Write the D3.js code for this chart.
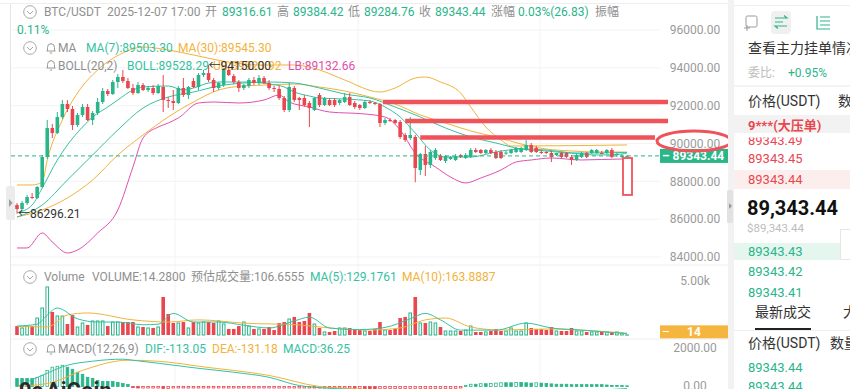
<!DOCTYPE html>
<html><head><meta charset="utf-8">
<script src="https://cdn.jsdelivr.net/npm/d3@7"></script>
<style>
html,body{margin:0;padding:0;background:#fff;overflow:hidden}
svg{display:block}
text{font-family:Roboto,"Noto Sans CJK SC",sans-serif}
</style>
</head><body>
<svg id="c" width="850" height="389"></svg>
<script>
// ---------- DATA (hourly BTC/USDT candles) ----------
const opens=[86750,86538,86855,87172,87120,87700,89286,90820,90555,91401,
92088,91824,90978,91507,91930,91242,91613,92194,92775,92617,
93251,93516,93304,92934,92670,93093,92828,92934,92670,92987,
92300,92247,92141,92934,92564,93304,92987,93621,93727,93357,
92934,93093,93886,93568,93251,92934,93040,93357,93198,93463,
93198,92934,92881,92405,91771,92934,92405,92405,92141,91771,
92564,92035,92300,92300,92141,92194,92458,92141,92035,91877,
92194,92141,92088,91084,91242,91242,91137,90449,90291,90344,
88600,89445,88864,89233,89339,89075,89181,89128,89392,89233,
89286,89657,89657,89498,89657,89551,89551,89498,89498,89551,
89551,89657,89921,89762,89551,89551,89498,89392,89498,89498,
89286,89128,89286,89498,89498,89498,89498,89498,89657,89392,
89286,89316.61];
const highs=[86855,86961,87278,87384,87754,89392,91242,91031,91665,92300,
92300,91982,91613,92088,92088,91718,92405,92934,92881,93357,
93674,93886,93463,93146,93251,93198,93040,93093,93146,93621,
92458,92828,93040,93463,93040,93463,93727,93886,94150,93463,
93251,93991,94044,93674,93357,93146,93463,93516,93621,93568,
93357,93040,93040,92511,93198,93040,92458,92564,92247,92458,
92670,92458,92405,92405,92352,92670,92670,92247,92088,92300,
92300,92194,92141,91348,91348,91295,91242,90555,91401,90449,
89498,89868,89657,89762,89445,89392,89339,89445,89445,89498,
89762,89762,89709,89709,89762,89657,89657,89604,89709,89815,
89815,90185,90026,89868,89657,89604,89604,89498,89551,89551,
89392,89445,89551,89551,89709,89709,89604,89709,89762,89498,
89445,89384.42];
const lows=[86296.21,86432,86750,87066,87066,87648,89181,90291,90502,91295,
91665,90714,90872,91401,91190,90978,91507,92088,92511,92564,
92934,93198,92881,92564,92617,92775,92723,92564,92617,91665,
91877,91771,92088,92458,92352,92934,92828,93516,93251,92723,
92828,92987,93568,93146,92723,92828,92934,93093,93093,93146,
92828,92723,92300,91665,91665,92194,91771,91930,90872,91718,
91930,91982,91982,91930,92035,92141,91982,91824,91771,91824,
92088,92035,90872,90978,91137,91031,90238,90079,90185,87950,
88335,88282,88705,89128,89075,88969,89128,89075,89233,89181,
89233,89498,89445,89445,89445,89181,89181,89392,89445,89498,
89498,89604,89498,89498,89445,89445,89022,89339,89233,89233,
88864,89075,89233,89233,89445,89445,89445,89445,89233,89286,
89233,89284.76];
const closes=[86538,86855,87172,87120,87700,89286,90820,90555,91401,92088,
91824,90978,91507,91930,91242,91613,92194,92775,92617,93251,
93516,93304,92934,92670,93093,92828,92934,92670,93040,92300,
92247,92141,92934,92564,92987,92987,93621,93727,93357,92934,
93198,93886,93621,93251,92934,93093,93357,93198,93463,93198,
92934,92881,92405,91771,92987,92300,92300,92035,91877,92405,
92035,92405,92035,92035,92300,92458,92035,91930,91877,92194,
92141,92088,91084,91242,91190,91084,90344,90185,90449,88705,
89445,88864,89551,89657,89128,89339,89286,89339,89286,89392,
89657,89551,89498,89657,89498,89233,89233,89520,89657,89762,
89762,89921,89551,89551,89520,89498,89286,89498,89286,89286,
89128,89392,89498,89286,89657,89657,89470,89657,89286,89445,
89339,89343.44];
const volumes=[830,650,830,830,1570,2500,4450,2130,1760,1760,
1020,1850,740,1110,930,1300,1300,1300,830,1200,
1200,1200,1200,1200,740,740,650,650,740,3520,
1940,1110,1110,1200,650,1200,1110,1200,1200,1110,
1300,1020,560,560,830,1200,830,560,560,560,
740,460,1110,1200,1480,1670,1200,1300,2040,1020,
650,280,280,370,650,650,650,560,460,370,
370,560,1200,460,460,560,1570,1670,2040,3520,
1110,1110,1200,1110,740,370,370,370,370,460,
830,280,280,280,370,560,370,370,650,370,
370,1110,650,560,560,460,740,370,370,370,
650,370,370,280,280,280,280,280,250,280,
190,14.28];
const macdHist=[430,430,430,430,490,600,860,1030,1080,1130,
1030,920,760,650,490,430,320,270,270,270,
220,160,110,-60,-80,-80,-80,-80,-80,-100,
-100,-80,-80,-80,-80,-80,-80,-80,-80,-80,
-80,-80,-80,-80,-80,-80,-80,-80,-80,-80,
-80,-80,-80,-80,-80,-80,-80,-80,-80,-80,
-80,-80,-80,-80,-80,-80,-80,-100,-100,-120,
-140,-160,-120,-100,-100,-100,-100,-100,-100,-100,
-100,-100,-100,-100,-100,-100,-100,-100,-80,60,
120,120,150,150,160,180,200,200,200,220,
220,200,180,200,180,160,140,120,120,120,
100,100,100,100,100,100,100,80,60,60,
50,36.25];
// indicator lines: [candle index, value]
const ma7Pts=[[0,86326],[3,86749],[5,87648],[8,89128],[10,89921],[13,90872],[15,91401],[18,91930],[20,92300],[23,92828],[25,92987],[30,93040],[33,92828],[35,92934],[38,93198],[40,93251],[45,93251],[50,93146],[53,92987],[55,92723],[58,92511],[60,92405],[65,92352],[70,92247],[73,91930],[76,91401],[79,90555],[82,89657],[85,89286],[90,89286],[95,89551],[100,89709],[105,89657],[110,89498],[115,89392],[120,89445],[121,89503.30]];
const ma30Pts=[[0,86115],[5,86485],[10,87120],[15,88071],[20,89392],[25,90449],[30,91401],[35,92194],[40,92828],[45,93040],[50,93093],[55,93146],[60,92987],[65,92775],[70,92458],[75,92088],[80,91507],[85,91084],[90,90661],[95,90344],[100,89974],[105,89709],[110,89604],[115,89551],[120,89551],[121,89545.30]];
const bollMidPts=[[0,86115],[5,86749],[10,88071],[15,89392],[20,90714],[25,91877],[30,92458],[35,92723],[40,93040],[45,93198],[50,93251],[55,93198],[60,92934],[65,92617],[70,92405],[75,91930],[80,91401],[85,90820],[90,90344],[95,90026],[100,89709],[105,89604],[110,89498],[115,89498],[120,89525],[121,89528.29]];
const bollUpPts=[[0,87807],[3,87807],[5,87965],[6,89128],[9,91242],[12,92670],[16,93886],[21,94784],[25,95101],[30,94943],[35,94679],[42,94308],[48,94150],[55,94150],[60,93886],[65,93357],[72,92723],[75,92934],[79,93463],[81,93516],[84,93251],[88,92670],[90,91930],[93,90872],[96,90185],[98,89868],[121,89923.92]];
const bollLowPts=[[0,84477],[2,84477],[5,85269],[7,84794],[10,84212],[12,84371],[16,85269],[20,86485],[23,88758],[25,90291],[28,90872],[30,91084],[32,91348],[36,92141],[39,92194],[44,92141],[49,92300],[52,92564],[54,92194],[58,91930],[62,91665],[69,91560],[73,91401],[76,90714],[79,89498],[83,88758],[86,88229],[89,87912],[92,88176],[96,88600],[99,89022],[102,89128],[106,89233],[112,89128],[120,89181],[121,89132.66]];
const volMa5Pts=[[0,830],[4,1000],[6,1850],[8,2500],[12,1500],[16,1200],[20,1200],[25,950],[28,1000],[31,2000],[35,1200],[40,1200],[45,900],[50,650],[55,1300],[58,1650],[62,650],[68,500],[73,700],[78,1500],[81,2000],[84,1400],[88,450],[95,450],[101,1100],[106,650],[112,450],[121,129.18]];
const volMa10Pts=[[0,800],[6,750],[10,1850],[14,2040],[23,1400],[30,1200],[36,1400],[45,1100],[56,930],[62,650],[70,460],[76,650],[81,1400],[85,1570],[90,740],[96,460],[106,560],[115,370],[121,163.89]];
const difPts=[[0,0],[5,594],[10,1134],[15,1350],[21,1458],[23,1400],[28,1240],[36,970],[43,760],[50,490],[56,50],[63,-110],[70,-200],[76,-350],[80,-800],[85,-1000],[90,-900],[100,-600],[110,-300],[121,-113.05]];
const deaPts=[[0,0],[7,220],[13,860],[22,1400],[30,1300],[36,1080],[50,590],[60,0],[66,-110],[75,-250],[80,-400],[85,-700],[90,-850],[100,-700],[110,-400],[121,-131.18]];
const priceTicks=[96000,94000,92000,90000,88000,86000,84000];
const volTicks=[5000];
const macdTicks=[2000,0];
const lastPrice=89343.44, lastVolume=14, highMark=94150.00, highIdx=38, lowMark=86296.21, lowIdx=0;
const resistanceLevels=[[92190,72.6],[91190,77],[90320,80]];   // hand-drawn lines: [price, starting candle]
const boxRange=[89233,87280];

// ---------- SETUP ----------
const svg=d3.select('#c');
const C={green:'#2ab58b',red:'#e9474f',teal:'#35c2a2',orange:'#f3b23a',mag:'#e14fae',gray:'#8f8f8f',axis:'#9a9a9a',grid:'#f3f3f3',anno:'#f0525a'};
const n=closes.length;
const x=d3.scaleLinear().domain([0,n-1]).range([17,627]);
const yP=d3.scaleLinear().domain([84000,96000]).range([257,30]);
const yV=d3.scaleLinear().domain([0,5000]).range([335,281]);
const yM=d3.scaleLinear().domain([0,2000]).range([386.5,349]);
const bw=3.6;

const defs=svg.append('defs');
defs.append('clipPath').attr('id','mainclip').append('rect').attr('x',11).attr('y',0).attr('width',649).attr('height',262);
defs.append('clipPath').attr('id','rowclip').append('rect').attr('x',734).attr('y',137.5).attr('width',116).attr('height',30);

// grid
const grid=svg.append('g');
grid.selectAll('.hg').data(priceTicks).join('line').attr('x1',11).attr('x2',660).attr('y1',d=>yP(d)).attr('y2',d=>yP(d)).attr('stroke',C.grid);
[175,358,540].forEach(gx=>grid.append('line').attr('x1',gx).attr('x2',gx).attr('y1',4).attr('y2',389).attr('stroke',C.grid));
grid.append('line').attr('x1',11).attr('x2',729).attr('y1',265).attr('y2',265).attr('stroke','#eeeeee');
grid.append('line').attr('x1',11).attr('x2',729).attr('y1',339).attr('y2',339).attr('stroke','#eeeeee');
grid.append('line').attr('x1',0).attr('x2',729).attr('y1',3.5).attr('y2',3.5).attr('stroke','#eeeeee');
grid.append('line').attr('x1',10.5).attr('x2',10.5).attr('y1',4).attr('y2',389).attr('stroke','#e6e6e6');

const line=(ys)=>d3.line().x(d=>x(d[0])).y(d=>ys(d[1])).curve(d3.curveMonotoneX);

// ---------- MAIN PANEL ----------
const main=svg.append('g').attr('clip-path','url(#mainclip)');
[[bollLowPts,C.mag],[bollUpPts,C.orange],[ma30Pts,C.orange],[bollMidPts,C.teal],[ma7Pts,C.teal]].forEach(([p,c])=>{
  main.append('path').datum(p).attr('d',line(yP)).attr('fill','none').attr('stroke',c).attr('stroke-width',1);
});
const idx=d3.range(n);
const up=i=>closes[i]>=opens[i];
const cg=main.append('g');
cg.selectAll('.w').data(idx).join('line').attr('x1',i=>x(i)).attr('x2',i=>x(i)).attr('y1',i=>yP(highs[i])).attr('y2',i=>yP(lows[i])).attr('stroke',i=>up(i)?C.green:C.red).attr('stroke-width',1);
cg.selectAll('.b').data(idx).join('rect').attr('x',i=>x(i)-bw/2).attr('width',bw)
 .attr('y',i=>yP(Math.max(opens[i],closes[i])))
 .attr('height',i=>Math.max(1,Math.abs(yP(opens[i])-yP(closes[i]))))
 .attr('fill',i=>up(i)?C.green:C.red);

// current price dashed line
svg.append('line').attr('x1',11).attr('x2',660).attr('y1',yP(lastPrice)).attr('y2',yP(lastPrice)).attr('stroke',C.green).attr('stroke-dasharray','4,3').attr('stroke-width',1);

// low mark
svg.append('text').attr('x',x(lowIdx)+1).attr('y',yP(lowMark)+4).attr('font-size',12).attr('fill','#333').text('\u2190'+lowMark.toFixed(2));

// ---------- VOLUME PANEL ----------
const vg=svg.append('g');
vg.selectAll('rect').data(idx).join('rect')
 .attr('x',i=>x(i)-bw/2+(up(i)?0.5:0)).attr('width',i=>up(i)?bw-1:bw)
 .attr('y',i=>yV(volumes[i])).attr('height',i=>Math.max(0.3,yV(0)-yV(volumes[i])))
 .attr('fill',i=>up(i)?'#fff':C.red).attr('stroke',i=>up(i)?C.green:'none').attr('stroke-width',1);
[[volMa10Pts,C.orange],[volMa5Pts,C.teal]].forEach(([p,c])=>vg.append('path').datum(p).attr('d',line(yV)).attr('fill','none').attr('stroke',c).attr('stroke-width',1));

// ---------- MACD PANEL ----------
const mg=svg.append('g');
mg.selectAll('rect').data(idx).join('rect')
 .attr('x',i=>x(i)-bw/2+0.5).attr('width',bw-1)
 .attr('y',i=>macdHist[i]>=0?yM(macdHist[i]):yM(0))
 .attr('height',i=>Math.max(0.5,Math.abs(yM(macdHist[i])-yM(0))))
 .attr('fill',i=>{const v=macdHist[i],p=i>0?macdHist[i-1]:v; if(v>=0) return (v>p)?'#fff':C.green; return (v<p)?C.red:'#fff';})
 .attr('stroke',i=>macdHist[i]>=0?C.green:C.red).attr('stroke-width',0.8);
[[deaPts,C.orange],[difPts,C.teal]].forEach(([p,c])=>mg.append('path').datum(p).attr('d',line(yM)).attr('fill','none').attr('stroke',c).attr('stroke-width',1));

// ---------- AXIS LABELS ----------
const ax=svg.append('g').attr('font-size',12).attr('fill',C.axis).attr('text-anchor','middle');
priceTicks.forEach(t=>ax.append('text').attr('x',695).attr('y',yP(t)).attr('dy','0.35em').text(t.toFixed(2)));
volTicks.forEach(t=>ax.append('text').attr('x',695).attr('y',yV(t)).attr('dy','0.35em').text((t/1000).toFixed(2)+'k'));
macdTicks.forEach(t=>ax.append('text').attr('x',695).attr('y',yM(t)-1).attr('dy','0.35em').text(t.toFixed(2)));

// price tag
svg.append('rect').attr('x',660).attr('y',yP(lastPrice)-7).attr('width',68).attr('height',14).attr('fill','#2bb68a');
svg.append('text').attr('x',662).attr('y',yP(lastPrice)+4.5).attr('font-size',12).attr('font-weight','bold').attr('fill','#fff').text('\u2013 '+lastPrice.toFixed(2));
// volume tag
svg.append('rect').attr('x',660).attr('y',yV(lastVolume)-9.5).attr('width',68).attr('height',13).attr('fill','#f5b640');
svg.append('text').attr('x',662).attr('y',yV(lastVolume)-3).attr('dy','0.35em').attr('font-size',12).attr('fill','#fff').text('\u2013');
svg.append('text').attr('x',694).attr('y',yV(lastVolume)-3).attr('dy','0.35em').attr('font-size',12).attr('font-weight','bold').attr('text-anchor','middle').attr('fill','#fff').text(lastVolume);

// ---------- HAND-DRAWN ANNOTATIONS ----------
const an=svg.append('g');
resistanceLevels.forEach(([p,s],k)=>an.append('line').attr('x1',x(s)).attr('x2',k===2?655:668).attr('y1',yP(p)).attr('y2',yP(p)).attr('stroke',C.anno).attr('stroke-width',4.5));
an.append('ellipse').attr('cx',694).attr('cy',yP(90000)-2.5).attr('rx',37).attr('ry',10).attr('fill','none').attr('stroke',C.anno).attr('stroke-width',3);
an.append('rect').attr('x',x(n-1)-4).attr('y',yP(boxRange[0])).attr('width',9).attr('height',yP(boxRange[1])-yP(boxRange[0])).attr('fill','#fff').attr('stroke',C.anno).attr('stroke-width',1.8);

// ---------- HEADERS ----------
function chevron(cx,cy){const g=svg.append('g').attr('transform',`translate(${cx},${cy})`);g.append('circle').attr('r',6.3).attr('fill','none').attr('stroke','#a8a8a8').attr('stroke-width',1);g.append('path').attr('d','M-3,-1 L0,2 L3,-1').attr('fill','none').attr('stroke','#a8a8a8').attr('stroke-width',1);}
function bell(cx,cy){const g=svg.append('g').attr('transform',`translate(${cx},${cy})`);g.append('path').attr('d','M-4.5,3 H4.5 M-3.5,3 V-0.5 A3.5,3.8 0 0 1 3.5,-0.5 V3 M-1.2,5 H1.2 M0,-4.3 V-5').attr('fill','none').attr('stroke','#9a9a9a').attr('stroke-width',1);}
function txt(xx,yy,s,c,opt={}){const t=svg.append('text').attr('x',xx).attr('y',yy).attr('font-size',opt.size||12).attr('fill',c).text(s);if(opt.weight)t.attr('font-weight',opt.weight);if(opt.anchor)t.attr('text-anchor',opt.anchor);return t;}

chevron(30,12);
[[44,'BTC/USDT',C.gray],[107,'2025-12-07 17:00',C.gray],[205,'开',C.gray],[222,'89316.61',C.green],[277,'高',C.gray],[293,'89384.42',C.green],[348,'低',C.gray],[364,'89284.76',C.green],[419,'收',C.gray],[435,'89343.44',C.green],[491,'涨幅',C.gray],[518,'0.03%(26.83)',C.green],[595,'振幅',C.gray]].forEach(([xx,s,c])=>txt(xx,16,s,c));
txt(17,34,'0.11%',C.green);
chevron(30,48); bell(51,48);
txt(58,52,'MA',C.gray); txt(86,52,'MA(7):89503.30',C.teal); txt(178,52,'MA(30):89545.30',C.orange);
bell(51,65);
txt(58,70,'BOLL(20,2)',C.gray); txt(127,70,'BOLL:89528.29',C.teal); txt(213,70,'UB:89923.92',C.orange); txt(288,70,'LB:89132.66',C.mag);
// the high mark label sits over the UB label, as in the reference
svg.append('text').attr('x',x(highIdx)).attr('y',70).attr('font-size',12).attr('fill','#333').text('\u2190'+highMark.toFixed(2));

chevron(30,277);
txt(44,281,'Volume',C.gray); txt(92,281,'VOLUME:14.2800',C.gray); txt(191,281,'预估成交量:106.6555',C.gray); txt(310,281,'MA(5):129.1761',C.teal); txt(402,281,'MA(10):163.8887',C.orange);
chevron(30,349); bell(51,349);
txt(58,353,'MACD(12,26,9)',C.gray); txt(145,353,'DIF:-113.05',C.teal); txt(212,353,'DEA:-131.18',C.orange); txt(283,353,'MACD:36.25',C.teal);

// left tab
svg.append('rect').attr('x',6).attr('y',186).attr('width',9).attr('height',34).attr('rx',2).attr('fill','#ececec');
svg.append('path').attr('d','M9,199 L12.5,203 L9,207 Z').attr('fill','#9a9a9a');

// watermark
txt(19,398,'9c',"#2b2b2b",{size:22,weight:'bold'});
txt(46,398,'AiCoin',"#2b2b2b",{size:22,weight:'bold'});

// ---------- RIGHT PANEL ----------
const rp=svg.append('g');
rp.append('rect').attr('x',728).attr('y',0).attr('width',6).attr('height',389).attr('fill','#f2f2f2');
rp.append('rect').attr('x',727).attr('y',190).attr('width',6).attr('height',33).attr('rx',1.5).attr('fill','#e2e2e2');
rp.append('path').attr('d','M729,203 L732,206 L729,209 Z').attr('fill','#999');
rp.append('line').attr('x1',734).attr('x2',850).attr('y1',5.5).attr('y2',5.5).attr('stroke','#eeeeee');
// icons
rp.append('rect').attr('x',746).attr('y',16).attr('width',11).attr('height',11).attr('rx',1.5).attr('fill','none').attr('stroke','#9a9a9a');
rp.append('path').attr('d','M744,28 H750 M747,25 V31').attr('stroke','#9a9a9a').attr('fill','none');
rp.append('rect').attr('x',771).attr('y',11).attr('width',20).attr('height',23).attr('rx',4).attr('fill','#f0f0f0');
rp.append('path').attr('d','M775,18 H787 L784,15.5 M787,26 H775 L778,28.5 M775,22 H783').attr('stroke','#2ab58b').attr('fill','none').attr('stroke-width',1.2);
rp.append('path').attr('d','M817,16 V29 H830 M820,17 H830 M820,21 H830 M820,25 H830').attr('stroke','#2ab58b').attr('fill','none').attr('stroke-width',1.2);
txt(748,53,'查看主力挂单情况','#333',{size:14});
txt(748,77,'委比:','#bdbdbd',{size:12}); txt(788,77,'+0.95%',C.green,{size:12});
rp.append('line').attr('x1',734).attr('x2',850).attr('y1',86).attr('y2',86).attr('stroke','#e8e8e8');
txt(748,106,'价格(USDT)','#333',{size:14}); txt(838,106,'数','#333',{size:14});
txt(748,145,'89343.49','#e9474f',{size:13}).attr('clip-path','url(#rowclip)');
rp.append('rect').attr('x',734).attr('y',115).attr('width',116).attr('height',18).attr('fill','#f2f2f2');
txt(748,130,'9***(大压单)','#e9474f',{size:13,weight:'bold'});
txt(748,163,'89343.45','#e9474f',{size:13});
rp.append('rect').attr('x',734).attr('y',170).attr('width',116).attr('height',19).attr('fill','#fdeeee');
txt(748,184,'89343.44','#e9474f',{size:13});
txt(747,215,'89,343.44','#111',{size:20,weight:'bold'});
txt(747,232,'$89,343.44','#bdbdbd',{size:11.5});
rp.append('rect').attr('x',734).attr('y',243).attr('width',106).attr('height',17).attr('fill','#e5f6ef');
rp.append('rect').attr('x',840.5).attr('y',229.5).attr('width',14).attr('height',30).attr('fill','#fff').attr('stroke','#e6e6e6');
txt(748,256,'89343.43',C.green,{size:13});
txt(748,276,'89343.42',C.green,{size:13});
txt(748,297,'89343.41',C.green,{size:13});
rp.append('rect').attr('x',734).attr('y',292).attr('width',116).attr('height',97).attr('fill','#fff');
txt(755,317,'最新成交','#333',{size:14});
txt(843,317,'大','#333',{size:14});
rp.append('line').attr('x1',755).attr('x2',811).attr('y1',329).attr('y2',329).attr('stroke','#222').attr('stroke-width',2);
rp.append('line').attr('x1',734).attr('x2',850).attr('y1',330.5).attr('y2',330.5).attr('stroke','#eeeeee');
txt(748,348,'价格(USDT)','#333',{size:14}); txt(830,348,'数量','#333',{size:14});
txt(748,372,'89343.44',C.green,{size:13});
txt(748,391,'89343.44',C.green,{size:13});
</script>
</body></html>
